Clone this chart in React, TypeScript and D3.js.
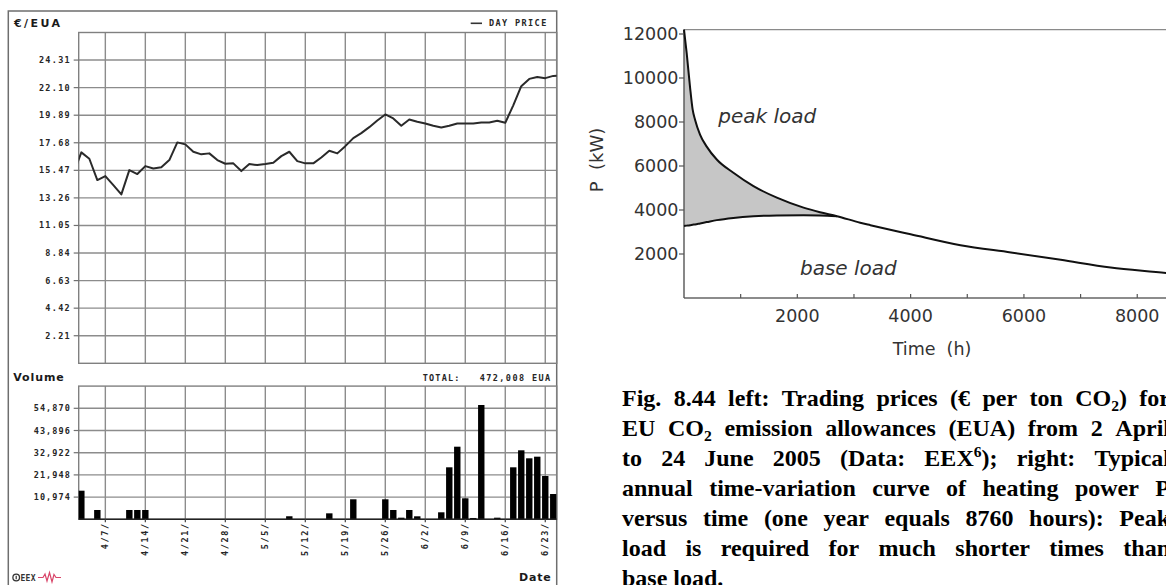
import React, { useMemo } from 'react';
import * as d3 from 'd3';

// ---------------- LEFT: EEX EUA day price and volume ----------------
const tradeDates = [
  '4/1',
  '4/4', '4/5', '4/6', '4/7', '4/8',
  '4/11', '4/12', '4/13', '4/14', '4/15',
  '4/18', '4/19', '4/20', '4/21', '4/22',
  '4/25', '4/26', '4/27', '4/28', '4/29',
  '5/2', '5/3', '5/4', '5/5', '5/6',
  '5/9', '5/10', '5/11', '5/12', '5/13',
  '5/16', '5/17', '5/18', '5/19', '5/20',
  '5/23', '5/24', '5/25', '5/26', '5/27',
  '5/30', '5/31', '6/1', '6/2', '6/3',
  '6/6', '6/7', '6/8', '6/9', '6/10',
  '6/13', '6/14', '6/15', '6/16', '6/17',
  '6/20', '6/21', '6/22', '6/23', '6/24',
  '6/27',
];
const dayPrice = [
  15.2,
  16.91, 16.4, 14.69, 15.01, 14.28,
  13.54, 15.49, 15.17, 15.81, 15.62,
  15.71, 16.29, 17.71, 17.55, 16.96,
  16.75, 16.83, 16.29, 16.0, 16.03,
  15.41, 15.97, 15.89, 15.97, 16.07,
  16.61, 16.96, 16.21, 16.03, 16.03,
  16.5, 17.04, 16.83, 17.41, 18.05,
  18.45, 18.93, 19.46, 19.95, 19.63,
  19.04, 19.55, 19.36, 19.23, 19.04,
  18.91, 19.04, 19.23, 19.23, 19.23,
  19.31, 19.31, 19.44, 19.28, 20.68,
  22.22, 22.8, 22.96, 22.86, 23.04,
  23.05,
];
const dayVolume = [
  0,
  14140, 0, 4600, 0, 0,
  0, 4600, 4600, 4600, 0,
  0, 0, 0, 0, 0,
  0, 0, 0, 0, 0,
  0, 0, 0, 0, 0,
  0, 1500, 0, 0, 0,
  0, 2950, 0, 0, 9890,
  0, 0, 0, 9890, 4600,
  800, 4600, 1480, 0, 0,
  3460, 25700, 35890, 10380, 650,
  56500, 0, 800, 0, 25700,
  34110, 30150, 30950, 21400, 12500,
  0,
];
const dateTickDays = ['4/7', '4/14', '4/21', '4/28', '5/5', '5/12', '5/19', '5/26', '6/2', '6/9', '6/16', '6/23'];
const dateTickLabels = ['4/7/', '4/14/', '4/21/', '4/28/', '5/5/', '5/12/', '5/19/', '5/26/', '6/2/', '6/9/', '6/16/', '6/23/'];
const priceTicks = [2.21, 4.42, 6.63, 8.84, 11.05, 13.26, 15.47, 17.68, 19.89, 22.1, 24.31];
const priceTickLabels = ['2.21', '4.42', '6.63', '8.84', '11.05', '13.26', '15.47', '17.68', '19.89', '22.10', '24.31'];
const priceMax = 26.52;
const volumeTicks = [10974, 21948, 32922, 43896, 54870];
const volumeTickLabels = ['10,974', '21,948', '32,922', '43,896', '54,870'];
const volumeMax = 65844;
const volumeTotalLabel = '472,008 EUA';

// ---------------- RIGHT: heating load duration curve ----------------
const peakHours = [0, 47, 106, 153, 195, 283, 401, 578, 872, 1226, 1639, 2110, 2400, 2700];
const peakLoad = [12200, 11140, 9600, 8560, 8106, 7427, 6880, 6294, 5692, 5085, 4560, 4107, 3900, 3720];
const baseLoad = [3274, 3290, 3310, 3330, 3345, 3390, 3450, 3540, 3640, 3715, 3755, 3765, 3755, 3720];
const tailHours = [3110, 3290, 4000, 4880, 5770, 6650, 7530, 8520, 8760];
const tailLoad = [3420, 3310, 2898, 2400, 2069, 1734, 1390, 1132, 1060];
const hourTicks = [2000, 4000, 6000, 8000];
const hourMinorTicks = [1000, 2000, 3000, 4000, 5000, 6000, 7000, 8000];
const powerTicks = [2000, 4000, 6000, 8000, 10000, 12000];

// ---------------- Caption ----------------
type Seg = { t: string; k?: 'sub' | 'sup' };
const captionLines: Seg[][] = [
  [{ t: 'Fig. 8.44 left: Trading prices (€ per ton CO' }, { t: '2', k: 'sub' }, { t: ') for' }],
  [{ t: 'EU CO' }, { t: '2', k: 'sub' }, { t: ' emission allowances (EUA) from 2 April' }],
  [{ t: 'to 24 June 2005 (Data: EEX' }, { t: '6', k: 'sup' }, { t: '); right: Typical' }],
  [{ t: 'annual time-variation curve of heating power P' }],
  [{ t: 'versus time (one year equals 8760 hours): Peak' }],
  [{ t: 'load is required for much shorter times than' }],
  [{ t: 'base load.' }],
];

const MONO = '"DejaVu Sans Mono", monospace';
const SANS = '"DejaVu Sans", sans-serif';
const SERIF = '"Liberation Serif", "Times New Roman", serif';

function toWords(line: Seg[]): Seg[][] {
  const words: Seg[][] = [[]];
  for (const s of line) {
    const parts = s.t.split(' ');
    parts.forEach((p, j) => {
      if (j > 0) words.push([]);
      if (p) words[words.length - 1].push({ t: p, k: s.k });
    });
  }
  return words.filter((w) => w.length);
}

export default function App() {
  // left scales
  const xL = d3.scaleLinear().domain([0.67, 60.43]).range([78.7, 556.7]);
  const yPrice = d3.scaleLinear().domain([0, priceMax]).range([363.3, 32.5]);
  const yVol = d3.scaleLinear().domain([0, volumeMax]).range([519.3, 386.1]);
  const plotL = xL(0.67);
  const plotR = xL(60.43);
  const priceTop = yPrice(priceMax);
  const priceBot = yPrice(0);
  const volTop = yVol(volumeMax);
  const volBot = yVol(0);
  const priceLine = d3
    .line<number>()
    .x((_, i) => xL(i))
    .y((d) => yPrice(d))(dayPrice) as string;
  const gridX = dateTickDays.map((d) => xL(tradeDates.indexOf(d)));

  // right scales
  const xR = d3.scaleLinear().domain([0, 8760]).range([684, 1180.3]);
  const yR = d3.scaleLinear().domain([0, 12000]).range([298, 34]);
  const upperPts: [number, number][] = [
    ...peakHours.map((h, i) => [h, peakLoad[i]] as [number, number]),
    ...tailHours.map((h, i) => [h, tailLoad[i]] as [number, number]),
  ];
  const upperPath = d3
    .line<[number, number]>()
    .x((d) => xR(d[0]))
    .y((d) => yR(d[1]))
    .curve(d3.curveMonotoneX)(upperPts) as string;
  const basePath = d3
    .line<number>()
    .x((h) => xR(h))
    .y((_, i) => yR(baseLoad[i]))
    .curve(d3.curveMonotoneX)(peakHours) as string;
  const peakArea = d3
    .area<number>()
    .x((h) => xR(h))
    .y0((_, i) => yR(baseLoad[i]))
    .y1((_, i) => yR(peakLoad[i]))
    .curve(d3.curveMonotoneX)(peakHours) as string;
  const rTop = yR(12200);
  const rBot = yR(0);
  const rLeft = xR(0);

  // caption layout (justified)
  const caption = useMemo(() => {
    const size = 24;
    const subSize = size * 0.65;
    const cv = document.createElement('canvas');
    const ctx = cv.getContext('2d')!;
    const measure = (s: Seg) => {
      ctx.font = `bold ${s.k ? subSize : size}px "Liberation Serif"`;
      return ctx.measureText(s.t).width;
    };
    ctx.font = `bold ${size}px "Liberation Serif"`;
    const spaceW = ctx.measureText(' ').width;
    const left = 622;
    const right = 1170;
    const out: { x: number; line: number; s: Seg }[] = [];
    captionLines.forEach((line, li) => {
      const words = toWords(line);
      const widths = words.map((w) => w.reduce((a, s) => a + measure(s), 0));
      const total = widths.reduce((a, b) => a + b, 0);
      const last = li === captionLines.length - 1;
      const gap = last || words.length < 2 ? spaceW : (right - left - total) / (words.length - 1);
      let x = left;
      words.forEach((w, wi) => {
        let sx = x;
        w.forEach((s) => {
          out.push({ x: sx, line: li, s });
          sx += measure(s);
        });
        x += widths[wi] + gap;
      });
    });
    return { out, size, subSize };
  }, []);
  const capBaselines = [406, 436, 466, 496, 526, 556, 586];

  const gridStroke = '#8c8c8c';
  const labelFill = '#262626';

  return (
    <svg
      width={1166}
      height={585}
      style={{ position: 'absolute', left: 0, top: 0, display: 'block', background: '#fff' }}
    >
      <defs>
        <clipPath id="priceClip">
          <rect x={plotL} y={priceTop} width={plotR - plotL} height={priceBot - priceTop} />
        </clipPath>
        <clipPath id="volClip">
          <rect x={plotL} y={volTop} width={plotR - plotL} height={volBot - volTop} />
        </clipPath>
      </defs>
      <rect x={0} y={0} width={1166} height={585} fill="#fff" />

      {/* ================= LEFT CHART ================= */}
      <rect x={8.3} y={11} width={548.4} height={600} fill="none" stroke="#6e6e6e" strokeWidth={1.5} />
      <text x={14} y={27.3} fontFamily={SANS} fontWeight="bold" fontSize={11} letterSpacing={2.4} fill="#1a1a1a">
        €/EUA
      </text>
      <line x1={470.7} x2={482} y1={23.3} y2={23.3} stroke="#333" strokeWidth={1.6} />
      <text x={489} y={26.2} fontFamily={MONO} fontWeight="bold" fontSize={8.5} letterSpacing={1.4} fill={labelFill}>
        DAY PRICE
      </text>

      {/* price grid */}
      {priceTicks.map((v, i) => (
        <line key={'pg' + i} x1={plotL} x2={plotR} y1={yPrice(v)} y2={yPrice(v)} stroke={gridStroke} strokeWidth={1.4} />
      ))}
      {gridX.map((x, i) => (
        <line key={'pvx' + i} x1={x} x2={x} y1={priceTop} y2={priceBot} stroke={gridStroke} strokeWidth={1.4} />
      ))}
      <rect x={plotL} y={priceTop} width={plotR - plotL} height={priceBot - priceTop} fill="none" stroke="#808080" strokeWidth={1.4} />
      {priceTicks.map((v, i) => (
        <g key={'pt' + i}>
          <line x1={plotL - 5} x2={plotL} y1={yPrice(v)} y2={yPrice(v)} stroke="#707070" strokeWidth={1.2} />
          <text
            x={71}
            y={yPrice(v)}
            textAnchor="end"
            dominantBaseline="central"
            fontFamily={MONO}
            fontWeight="bold"
            fontSize={8.5}
            letterSpacing={1.3}
            fill={labelFill}
          >
            {priceTickLabels[i]}
          </text>
        </g>
      ))}
      <path d={priceLine} fill="none" stroke="#2a2a2a" strokeWidth={2} strokeLinejoin="round" clipPath="url(#priceClip)" />

      {/* volume header */}
      <text x={13.3} y={381.4} fontFamily={SANS} fontWeight="bold" fontSize={11} letterSpacing={0.9} fill="#1a1a1a">
        Volume
      </text>
      <text x={422.7} y={381} fontFamily={MONO} fontWeight="bold" fontSize={8.5} letterSpacing={1.2} fill={labelFill}>
        TOTAL:
      </text>
      <text x={551.5} y={381} textAnchor="end" fontFamily={MONO} fontWeight="bold" fontSize={8.5} letterSpacing={1.4} fill={labelFill}>
        {volumeTotalLabel}
      </text>

      {/* volume grid */}
      {volumeTicks.map((v, i) => (
        <line key={'vg' + i} x1={plotL} x2={plotR} y1={yVol(v)} y2={yVol(v)} stroke={gridStroke} strokeWidth={1.4} />
      ))}
      {gridX.map((x, i) => (
        <line key={'vvx' + i} x1={x} x2={x} y1={volTop} y2={volBot} stroke={gridStroke} strokeWidth={1.4} />
      ))}
      <rect x={plotL} y={volTop} width={plotR - plotL} height={volBot - volTop} fill="none" stroke="#808080" strokeWidth={1.4} />
      {volumeTicks.map((v, i) => (
        <g key={'vt' + i}>
          <line x1={plotL - 5} x2={plotL} y1={yVol(v)} y2={yVol(v)} stroke="#707070" strokeWidth={1.2} />
          <text
            x={71}
            y={yVol(v)}
            textAnchor="end"
            dominantBaseline="central"
            fontFamily={MONO}
            fontWeight="bold"
            fontSize={8.5}
            letterSpacing={1.1}
            fill={labelFill}
          >
            {volumeTickLabels[i]}
          </text>
        </g>
      ))}
      <g clipPath="url(#volClip)">
        {dayVolume.map((v, i) =>
          v > 0 ? (
            <rect key={'b' + i} x={xL(i) - 3.2} y={yVol(v)} width={6.4} height={volBot - yVol(v)} fill="#000" />
          ) : null
        )}
      </g>
      <line x1={plotL} x2={plotR} y1={volBot} y2={volBot} stroke="#222" strokeWidth={1.6} />
      {gridX.map((x, i) => (
        <g key={'xl' + i}>
          <line x1={x} x2={x} y1={volBot} y2={volBot + 3} stroke="#444" strokeWidth={1.2} />
          <text
            transform={`translate(${x},${volBot + 3}) rotate(-90)`}
            textAnchor="end"
            dominantBaseline="central"
            fontFamily={MONO}
            fontWeight="bold"
            fontSize={8.5}
            letterSpacing={1.6}
            fill={labelFill}
          >
            {dateTickLabels[i]}
          </text>
        </g>
      ))}

      {/* footer */}
      <circle cx={16.2} cy={577.5} r={3.3} fill="none" stroke="#333" strokeWidth={1.3} />
      <line x1={16.2} x2={16.2} y1={575.7} y2={579.3} stroke="#333" strokeWidth={1.2} />
      <text x={20.5} y={580.6} fontFamily={MONO} fontWeight="bold" fontSize={8} letterSpacing={0.3} fill="#333">
        EEX
      </text>
      <polyline
        points="38,577.5 43,577.5 45,574 47,581 49.5,572.5 52,582 54,574.5 56,577.5 61,577.5"
        fill="none"
        stroke="#d9466a"
        strokeWidth={1.2}
      />
      <text x={551.5} y={581.4} textAnchor="end" fontFamily={SANS} fontWeight="bold" fontSize={11} letterSpacing={0.8} fill="#1a1a1a">
        Date
      </text>

      {/* ================= RIGHT CHART ================= */}
      <path d={peakArea} fill="#c6c6c6" stroke="none" />
      <line x1={rLeft} x2={1166} y1={rTop} y2={rTop} stroke="#8a8a8a" strokeWidth={1.3} />
      <line x1={rLeft} x2={1166} y1={rBot} y2={rBot} stroke="#666" strokeWidth={1.4} />
      <line x1={rLeft} x2={rLeft} y1={rTop} y2={rBot} stroke="#555" strokeWidth={1.4} />
      <path d={basePath} fill="none" stroke="#111" strokeWidth={2} />
      <path d={upperPath} fill="none" stroke="#111" strokeWidth={2} />
      {powerTicks.map((v) => (
        <g key={'py' + v}>
          <line x1={rLeft - 5} x2={rLeft} y1={yR(v)} y2={yR(v)} stroke="#555" strokeWidth={1.2} />
          <text
            x={rLeft - 5.5}
            y={yR(v)}
            textAnchor="end"
            dominantBaseline="central"
            fontFamily={SANS}
            fontSize={17.5}
            fill="#333"
          >
            {v}
          </text>
        </g>
      ))}
      {hourMinorTicks.map((h) => (
        <line key={'hx' + h} x1={xR(h)} x2={xR(h)} y1={rBot} y2={rBot - 4} stroke="#555" strokeWidth={1.2} />
      ))}
      {hourTicks.map((h) => (
        <text key={'hl' + h} x={xR(h)} y={322} textAnchor="middle" fontFamily={SANS} fontSize={17.5} fill="#333">
          {h}
        </text>
      ))}
      <text x={932} y={355} textAnchor="middle" fontFamily={SANS} fontSize={17.5} fill="#333" style={{ whiteSpace: 'pre' }}>
        {'Time  (h)'}
      </text>
      <text
        transform="translate(596,160) rotate(-90)"
        textAnchor="middle"
        dominantBaseline="central"
        fontFamily={SANS}
        fontSize={18}
        fill="#333"
        style={{ whiteSpace: 'pre' }}
      >
        {'P  (kW)'}
      </text>
      <text x={718.3} y={122.5} fontFamily={SANS} fontStyle="italic" fontSize={20} fill="#333">
        peak load
      </text>
      <text x={800} y={275} fontFamily={SANS} fontStyle="italic" fontSize={20} fill="#333">
        base load
      </text>

      {/* ================= CAPTION ================= */}
      {caption.out.map((c, i) => (
        <text
          key={'c' + i}
          x={c.x}
          y={capBaselines[c.line] + (c.s.k === 'sub' ? 5 : c.s.k === 'sup' ? -9 : 0)}
          fontFamily={SERIF}
          fontWeight="bold"
          fontSize={c.s.k ? caption.subSize : caption.size}
          fill="#000"
        >
          {c.s.t}
        </text>
      ))}
    </svg>
  );
}
